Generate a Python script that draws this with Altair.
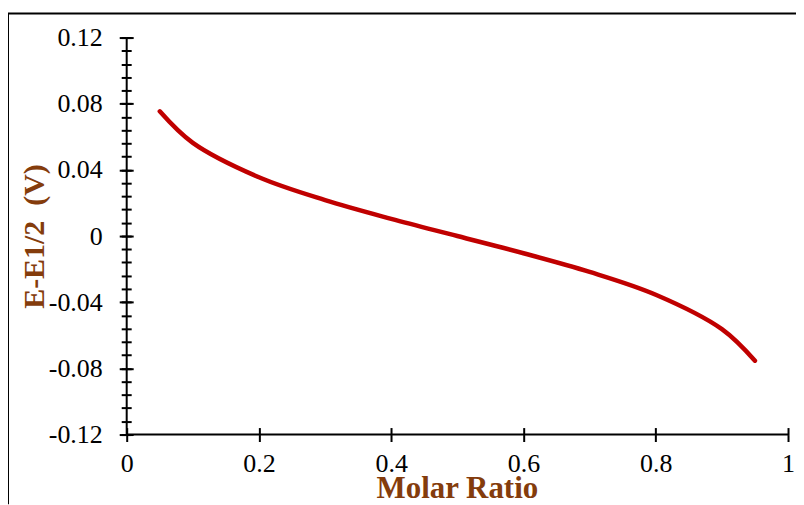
import altair as alt
import pandas as pd

# ---- data ----
ratio = [0.05, 0.10, 0.20, 0.30, 0.40, 0.50, 0.60, 0.70, 0.80, 0.90, 0.95]
potential = [0.0754, 0.0563, 0.0355, 0.0217, 0.0104, 0.0, -0.0104, -0.0217, -0.0355, -0.0563, -0.0754]

x_ticks = [0, 0.2, 0.4, 0.6, 0.8, 1]
y_ticks = [-0.12, -0.08, -0.04, 0, 0.04, 0.08, 0.12]
y_minor = [round(-0.12 + 0.008 * i, 3) for i in range(31)]

x_axis_line = pd.DataFrame({"x": [0], "x2": [1], "y": [-0.12]})
y_axis_line = pd.DataFrame({"x": [0], "y": [-0.12], "y2": [0.12]})
df = pd.DataFrame({"ratio": ratio, "potential": potential})

# ---- geometry ----
W, H = 790, 492
xdom = [-0.17949, 1.01207]
ydom = [-0.16226, 0.13448]
xs = alt.Scale(domain=xdom, nice=False, zero=False)
ys = alt.Scale(domain=ydom, nice=False, zero=False)

BROWN = "#843C0C"
FONT = "Liberation Serif"
label_expr = "'' + datum.value"

common = dict(domain=False, grid=False, tickColor="black", tickWidth=2)

y_left_major = alt.Axis(
    orient="left", offset=-118.5, values=y_ticks, tickSize=7, labelExpr=label_expr,
    labelFont=FONT, labelFontSize=26, labelColor="black", labelPadding=17,
    title="E-E1/2\u00a0 (V)", titleFont=FONT, titleFontSize=30, titleFontWeight="bold",
    titleColor=BROWN, titleX=-83, titleY=223, titleAngle=270, titleAlign="center",
    titleBaseline="alphabetic", **common)
x_bottom_major = alt.Axis(
    orient="bottom", offset=-70, values=x_ticks, tickSize=7, labelExpr=label_expr,
    labelFont=FONT, labelFontSize=26, labelColor="black", labelPadding=9,
    labelFlush=False,
    title="Molar Ratio", titleFont=FONT, titleFontSize=31, titleFontWeight="bold",
    titleColor=BROWN, titleX=450, titleY=63, titleAlign="center",
    titleBaseline="alphabetic", **common)
y_right_major = alt.Axis(orient="right", offset=-671.5, values=y_ticks, tickSize=7,
                         labels=False, title=None, **common)
x_top_major = alt.Axis(orient="top", offset=-422, values=x_ticks, tickSize=7,
                       labels=False, title=None, **common)
y_left_minor = alt.Axis(orient="left", offset=-118.5, values=y_minor, tickSize=5,
                        labels=False, title=None, **common)
y_right_minor = alt.Axis(orient="right", offset=-671.5, values=y_minor, tickSize=5,
                         labels=False, title=None, **common)

line = alt.Chart(df).mark_line(
    color="#C00000", strokeWidth=4.5, interpolate="catmull-rom", strokeCap="round"
).encode(
    x=alt.X("ratio:Q", scale=xs, axis=x_bottom_major),
    y=alt.Y("potential:Q", scale=ys, axis=y_left_major),
)

y_rule = alt.Chart(y_axis_line).mark_rule(color="black", strokeWidth=2).encode(
    x=alt.X("x:Q", scale=xs, axis=x_top_major),
    y=alt.Y("y:Q", scale=ys, axis=y_right_major),
    y2="y2:Q",
)

x_rule = alt.Chart(x_axis_line).mark_rule(color="black", strokeWidth=2).encode(
    x=alt.X("x:Q", scale=xs, axis=None),
    x2="x2:Q",
    y=alt.Y("y:Q", scale=ys, axis=y_left_minor),
)

ghost = alt.Chart(df).mark_point(opacity=0).encode(
    x=alt.X("ratio:Q", scale=xs, axis=None),
    y=alt.Y("potential:Q", scale=ys, axis=y_right_minor),
)

chart = alt.layer(x_rule, y_rule, ghost, line).resolve_axis(
    x="independent", y="independent"
).properties(
    width=W, height=H,
    autosize=alt.AutoSizeParams(type="none"),
    padding={"left": 0, "top": 5, "right": 0, "bottom": 0},
).configure_view(
    stroke="black", strokeWidth=2, strokeDash=[W, H + W, H, 0]
)

chart.save("out.html", embed_options={"renderer": "svg", "actions": False})
